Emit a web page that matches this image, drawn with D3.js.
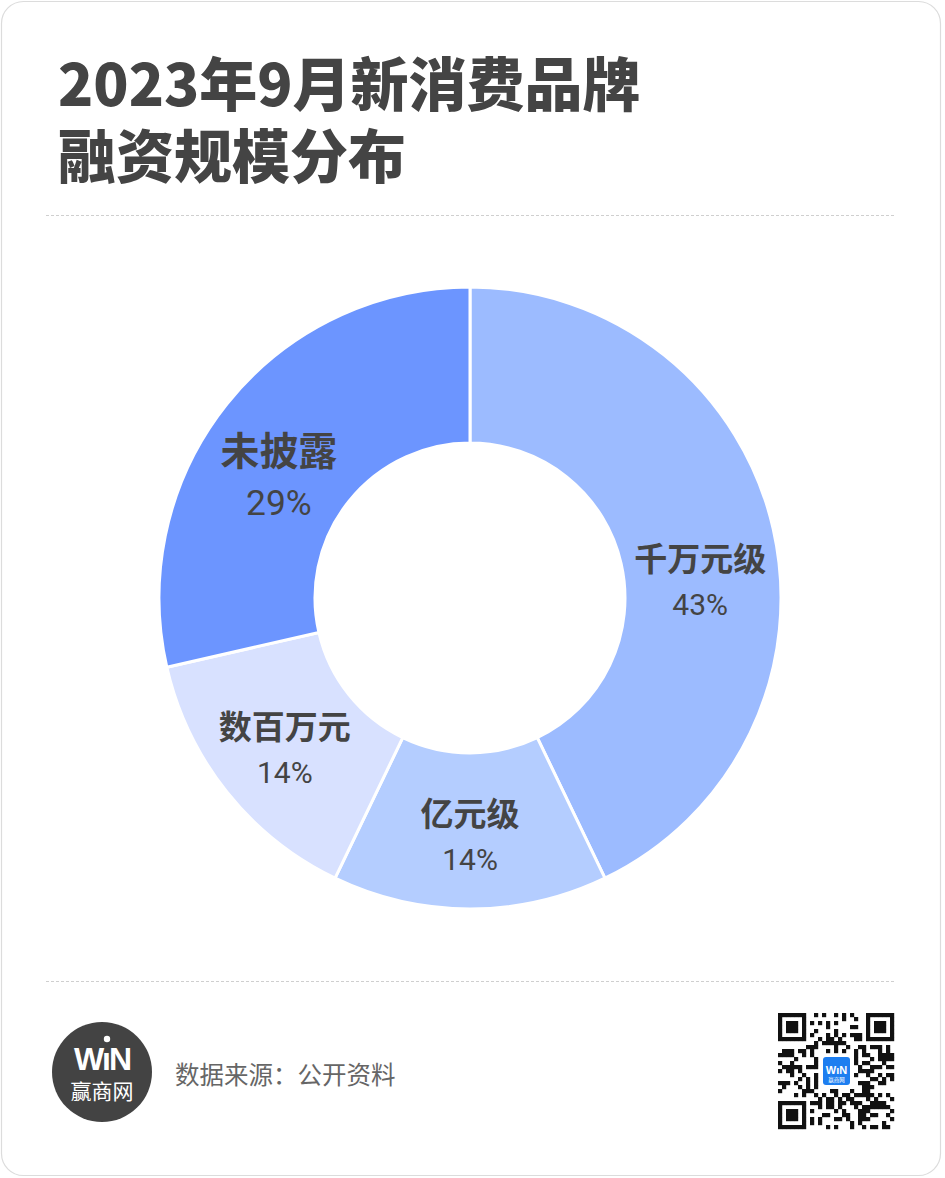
<!DOCTYPE html>
<html><head><meta charset="utf-8">
<script src="https://cdn.jsdelivr.net/npm/d3@7"></script>
<style>body{margin:0;background:#fff}svg{display:block}</style>
</head><body><svg id="c" width="945" height="1178"></svg>
<script>
// ---- data ----
const categories = ["千万元级", "亿元级", "数百万元", "未披露"];
const counts = [3, 1, 1, 2];
const percentLabels = ["43%", "14%", "14%", "29%"];
const titleLines = ["2023年9月新消费品牌", "融资规模分布"];
const sourceText = "数据来源：公开资料";
const logoText = "赢商网";

// ---- layout / style config ----
const colors = ["#9cbbff", "#b4cdff", "#d8e1ff", "#6c95ff"];
const labelScale = [1, 1, 1, 1.18];
const labelNudge = [[3, 11], [0, -19], [-3, -18], [-9, -5]];
const cx = 470, cy = 598, rOuter = 311, rInner = 155;
const textColor = "#444";
const cjk = "'Noto Sans CJK SC','Noto Sans',sans-serif";

const svg = d3.select("#c");

// card
svg.append("rect").attr("x", 1.5).attr("y", 1.5).attr("width", 939).attr("height", 1174)
  .attr("rx", 22).attr("fill", "#fff").attr("stroke", "#dcdcdc").attr("stroke-width", 1.2);

// title
titleLines.forEach((t, i) => {
  svg.append("text").attr("font-family", cjk).attr("font-weight", 900)
    .attr("font-size", 58).attr("fill", textColor)
    .attr("x", 58).attr("y", 106 + i * 72).text(t);
});

// separators
[215.5, 981.5].forEach(y => {
  svg.append("line").attr("x1", 46).attr("x2", 894).attr("y1", y).attr("y2", y)
    .attr("stroke", "#cfcfcf").attr("stroke-width", 1).attr("stroke-dasharray", "3,2");
});

// donut
const pie = d3.pie().sort(null).value(d => d)(counts);
const arc = d3.arc().innerRadius(rInner).outerRadius(rOuter);
const g = svg.append("g").attr("transform", `translate(${cx},${cy})`);
g.selectAll("path.slice").data(pie).join("path")
  .attr("class", "slice")
  .attr("d", arc)
  .attr("fill", (d, i) => colors[i])
  .attr("stroke", "#fff").attr("stroke-width", 3).attr("stroke-linejoin", "round");

const labels = g.selectAll("g.lab").data(pie).join("g").attr("class", "lab")
  .attr("transform", (d, i) => {
    const c = arc.centroid(d);
    return `translate(${c[0] + labelNudge[i][0]},${c[1] + labelNudge[i][1]})`;
  });
labels.append("text")
  .attr("text-anchor", "middle").attr("dominant-baseline", "central")
  .attr("font-family", cjk).attr("font-weight", 700)
  .attr("font-size", (d, i) => 33 * labelScale[i])
  .attr("fill", textColor)
  .text((d, i) => categories[i]);
labels.append("text")
  .attr("text-anchor", "middle").attr("dominant-baseline", "central")
  .attr("y", (d, i) => 47 * labelScale[i])
  .attr("font-family", "Roboto, 'DejaVu Sans', sans-serif").attr("font-weight", 400)
  .attr("font-size", (d, i) => 30 * labelScale[i])
  .attr("fill", textColor)
  .text((d, i) => percentLabels[i]);

// footer logo
svg.append("circle").attr("cx", 102).attr("cy", 1072).attr("r", 50).attr("fill", "#434343");
svg.append("text").attr("x", 102).attr("y", 1070).attr("text-anchor", "middle")
  .attr("font-family", "'Liberation Sans',Arial,sans-serif").attr("font-weight", 700)
  .attr("font-size", 32).attr("letter-spacing", -2).attr("fill", "#fff").text("WıN");
svg.append("circle").attr("cx", 107).attr("cy", 1039).attr("r", 3.2).attr("fill", "#fff");
svg.append("text").attr("x", 102).attr("y", 1099).attr("text-anchor", "middle")
  .attr("font-family", cjk).attr("font-size", 21).attr("fill", "#fff").text(logoText);

svg.append("text").attr("x", 175).attr("y", 1073).attr("dominant-baseline", "central")
  .attr("font-family", cjk).attr("font-size", 24.5).attr("fill", "#666").text(sourceText);

// QR-like code (decorative)
const qx = 778, qy = 1013, n = 29, m = 4;
const qr = svg.append("g").attr("transform", `translate(${qx},${qy})`);
function inFinder(r, c) {
  const spots = [[0, 0], [0, n - 7], [n - 7, 0]];
  for (const [fr, fc] of spots) if (r >= fr - 1 && r <= fr + 7 && c >= fc - 1 && c <= fc + 7) return [fr, fc];
  return null;
}
const cells = [];
for (let r = 0; r < n; r++) for (let c = 0; c < n; c++) {
  const f = inFinder(r, c);
  let on;
  if (f) {
    const dr = r - f[0], dc = c - f[1];
    if (dr < 0 || dc < 0 || dr > 6 || dc > 6) on = false;
    else {
      const ring = Math.min(dr, dc, 6 - dr, 6 - dc);
      on = ring !== 1;
    }
  } else if (r >= 10 && r <= 18 && c >= 10 && c <= 18) {
    on = false;
  } else {
    const h = ((r * 73856093) ^ (c * 19349663) ^ (r * c * 83492791)) >>> 0;
    on = (h % 7) < 3;
  }
  if (on) cells.push([r, c]);
}
qr.selectAll("rect").data(cells).join("rect")
  .attr("x", d => d[1] * m).attr("y", d => d[0] * m)
  .attr("width", m + 0.2).attr("height", m + 0.2).attr("fill", "#111");
qr.append("rect").attr("x", 45).attr("y", 44).attr("width", 27).attr("height", 28).attr("rx", 3).attr("fill", "#1d7ef0");
qr.append("text").attr("x", 58.5).attr("y", 61).attr("text-anchor", "middle")
  .attr("font-family", "'Liberation Sans',Arial,sans-serif").attr("font-weight", 700)
  .attr("font-size", 11).attr("fill", "#fff").text("WıN");
qr.append("text").attr("x", 58.5).attr("y", 68.5).attr("text-anchor", "middle")
  .attr("font-family", cjk).attr("font-size", 5.5).attr("fill", "#fff").text(logoText);
</script></body></html>
